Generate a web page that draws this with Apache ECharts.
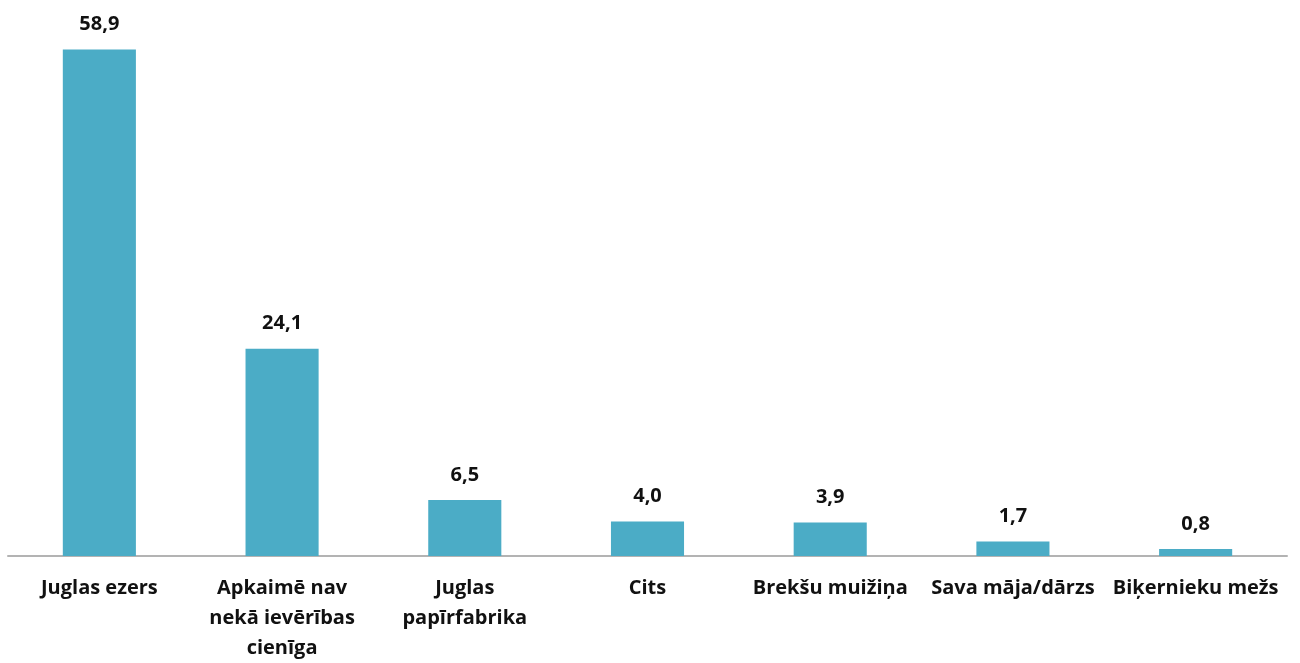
<!DOCTYPE html>
<html>
<head>
<meta charset="utf-8">
<script src="https://cdn.jsdelivr.net/npm/echarts@6/dist/echarts.min.js"></script>
<style>
html,body{margin:0;padding:0;background:#fff;}
#chart{width:1300px;height:663px;}
</style>
</head>
<body>
<div id="chart"></div>
<script>
const categories = [
  "Juglas ezers",
  "Apkaimē nav\nnekā ievērības\ncienīga",
  "Juglas\npapīrfabrika",
  "Cits",
  "Brekšu muižiņa",
  "Sava māja/dārzs",
  "Biķernieku mežs"
];
const values = [58.9, 24.1, 6.5, 4.0, 3.9, 1.7, 0.8];

const chart = echarts.init(document.getElementById('chart'));
chart.setOption({
  animation: false,
  grid: { left: 8, right: 13, top: 40, bottom: 104, containLabel: false },
  xAxis: {
    type: 'category',
    data: categories,
    axisLine: { lineStyle: { color: '#b3b3b3', width: 2 } },
    axisTick: { show: false },
    axisLabel: {
      interval: 0,
      color: '#111',
      fontFamily: 'Open Sans',
      fontWeight: 'bold',
      fontSize: 20,
      lineHeight: 30,
      margin: 17
    }
  },
  yAxis: {
    type: 'value',
    min: 0,
    max: 60,
    show: false,
    splitLine: { show: false }
  },
  series: [{
    type: 'bar',
    data: values,
    barWidth: '40%',
    itemStyle: { color: '#4BACC6' },
    label: {
      show: true,
      position: 'top',
      distance: 15,
      color: '#111',
      fontFamily: 'Open Sans',
      fontWeight: 'bold',
      fontSize: 20,
      formatter: p => p.value.toFixed(1).replace('.', ',')
    }
  }]
});
</script>
</body>
</html>
